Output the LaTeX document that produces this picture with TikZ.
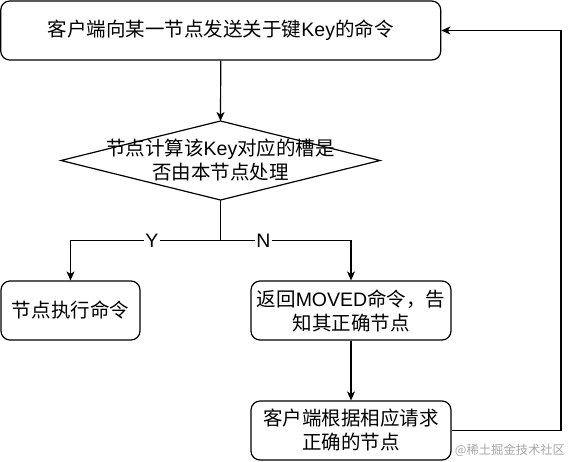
\documentclass[tikz,border=0pt]{standalone}
\usepackage{fontspec}
\setmainfont{Liberation Sans}
\newfontfamily\cjk{Noto Sans CJK SC}
\usetikzlibrary{arrows.meta}
\begin{document}
\begin{tikzpicture}[x=1pt,y=-1pt,
  line width=1.2pt,
  box/.style={draw,rounded corners=9pt,inner sep=0pt,align=center,
    font=\fontsize{19.5}{24}\selectfont},
  lbl/.style={fill=white,inner sep=1.5pt,font=\fontsize{19.5}{24}\selectfont},
  arr/.style={-{Stealth[length=9pt,width=8pt,inset=2.5pt]}}]
\useasboundingbox (0,0) rectangle (569,461);
\node[box,minimum width=440pt,minimum height=59pt] (top) at (220.75,30.5)
  {{\cjk 客户端向某一节点发送关于键}Key{\cjk 的命令}};
% diamond
\coordinate (dt) at (220.5,121);
\coordinate (dl) at (61,160.5);
\coordinate (dr) at (380,160.5);
\coordinate (db) at (220.5,200);
\draw (dt) -- (dr) -- (db) -- (dl) -- cycle;
\node[align=center,inner sep=0pt,font=\fontsize{19.5}{24}\selectfont] (dtext) at (220.5,160)
  {{\cjk 节点计算该}Key{\cjk 对应的槽是}\\{\cjk 否由本节点处理}};
\node[box,minimum width=139pt,minimum height=59pt] (left) at (70.5,310.5)
  {{\cjk 节点执行命令}};
\node[box,minimum width=200pt,minimum height=59pt] (right) at (351,310.5)
  {{\cjk 返回}MOVED{\cjk 命令，告}\\{\cjk 知其正确节点}};
\node[box,minimum width=200pt,minimum height=59pt] (bot) at (351,430.5)
  {{\cjk 客户端根据相应请求}\\{\cjk 正确的节点}};
\coordinate (split) at (220.5,240.5);
\coordinate (loop) at (561,430.5);
\draw[arr] (top.south) -- (dt);
\draw (db) -- (split);
\draw[arr] (split) -| (left.north);
\draw[arr] (split) -| (right.north);
\node[lbl] (ylbl) at (152,241) {Y};
\node[lbl] (nlbl) at (263.5,241) {N};
\draw[arr] (right.south) -- (bot.north);
\draw[arr] (bot.east) -- (loop) |- (top.east);
\node[text=black!35,inner sep=0pt,font=\cjk\fontsize{12.3}{14}\selectfont] (wm) at (510,450) {@稀土掘金技术社区};
\end{tikzpicture}
\end{document}
